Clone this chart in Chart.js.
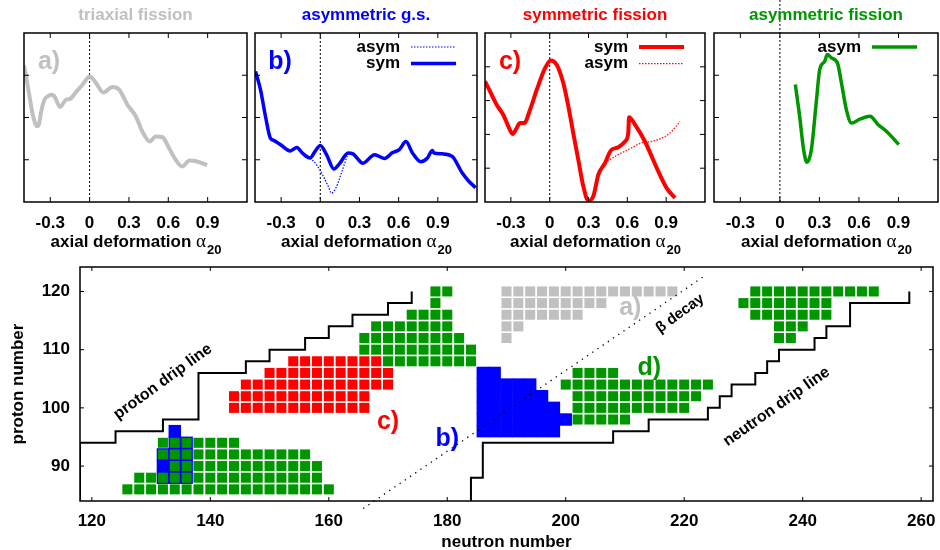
<!DOCTYPE html>
<html>
<head>
<meta charset="utf-8">
<script src="https://cdn.jsdelivr.net/npm/chart.js@4.4.1/dist/chart.umd.min.js"></script>
<style>
  body { margin: 0; background: #fff; }
  #wrap { position: relative; width: 940px; height: 550px; overflow: hidden; }
  canvas { position: absolute; }
</style>
</head>
<body>
<div id="wrap">
  <canvas id="panelA" width="255" height="255" style="left:0px;top:0px"></canvas>
  <canvas id="panelB" width="254" height="255" style="left:231px;top:0px"></canvas>
  <canvas id="panelC" width="252" height="255" style="left:461px;top:0px"></canvas>
  <canvas id="panelD" width="250" height="255" style="left:690px;top:0px"></canvas>
  <canvas id="chartMap" width="940" height="292" style="left:0px;top:258px"></canvas>
</div>
<script>
// ---- deformation curves ----
const alphaTicks = [-0.3, 0, 0.3, 0.6, 0.9];

// a) triaxial fission
const triAlpha = [-0.50, -0.484, -0.458, -0.433, -0.40, -0.387, -0.369, -0.344, -0.319, -0.293, -0.268, -0.225, -0.18, -0.149, -0.099, -0.053, 0, 0.048, 0.104, 0.175, 0.225, 0.289, 0.352, 0.402, 0.459, 0.504, 0.554, 0.605, 0.656, 0.706, 0.762, 0.82, 0.896];
const triE = [3.23, 2.97, 2.50, 2.07, 1.79, 1.83, 2.14, 2.42, 2.50, 2.54, 2.50, 2.25, 2.42, 2.44, 2.62, 2.78, 2.97, 2.82, 2.59, 2.72, 2.66, 2.30, 2.03, 1.67, 1.43, 1.55, 1.54, 1.28, 1.00, 0.84, 0.98, 0.96, 0.87];

// b) asymmetric g.s.
const gsSymAlpha = [-0.496, -0.458, -0.42, -0.382, -0.357, -0.306, -0.23, -0.179, -0.141, -0.078, -0.04, 0, 0.048, 0.104, 0.15, 0.213, 0.25, 0.327, 0.415, 0.491, 0.554, 0.605, 0.656, 0.706, 0.77, 0.82, 0.858, 0.871, 0.934, 1.01, 1.086, 1.137, 1.19];
const gsSymE = [3.09, 2.66, 2.03, 1.51, 1.46, 1.36, 1.21, 1.29, 1.17, 1.04, 1.20, 1.34, 1.12, 0.78, 0.92, 1.16, 1.14, 0.92, 1.12, 1.03, 1.17, 1.24, 1.43, 1.16, 0.95, 1.04, 1.22, 1.16, 1.14, 1.08, 0.69, 0.49, 0.34];
const gsAsymAlpha = [-0.078, -0.028, 0.023, 0.061, 0.086, 0.119, 0.162, 0.213];
const gsAsymE = [1.04, 0.88, 0.61, 0.37, 0.21, 0.33, 0.69, 1.16];

// c) symmetric fission
const symSymAlpha = [-0.5, -0.461, -0.41, -0.359, -0.32, -0.286, -0.255, -0.23, -0.196, -0.152, -0.1, -0.036, 0.008, 0.054, 0.105, 0.144, 0.182, 0.221, 0.26, 0.298, 0.337, 0.376, 0.427, 0.474, 0.53, 0.582, 0.607, 0.613, 0.659, 0.736, 0.827, 0.904, 0.968];
const symSymE = [3.57, 3.27, 2.88, 2.58, 2.24, 2.01, 2.19, 2.34, 2.34, 2.73, 3.32, 3.96, 4.19, 4.06, 3.52, 2.83, 2.04, 1.25, 0.46, 0.04, 0.17, 0.81, 1.15, 1.53, 1.62, 1.79, 2.04, 2.51, 2.29, 1.79, 1.01, 0.41, 0.12];
const symAsymAlpha = [0.427, 0.505, 0.607, 0.711, 0.788, 0.891, 0.943, 1.007];
const symAsymE = [1.15, 1.35, 1.55, 1.75, 1.79, 1.94, 2.09, 2.38];

// d) asymmetric fission
const asymAlpha = [0.117, 0.15, 0.18, 0.205, 0.239, 0.277, 0.302, 0.34, 0.36, 0.391, 0.437, 0.467, 0.505, 0.543, 0.607, 0.683, 0.746, 0.81, 0.903];
const asymE = [2.78, 2.03, 1.24, 0.94, 1.24, 2.39, 3.13, 3.33, 3.49, 3.41, 3.29, 2.82, 2.18, 1.87, 1.96, 2.03, 1.83, 1.67, 1.36];

// ---- nuclear chart: rows of [Z, first N, last N], even-even nuclei ----
const neutronTicks = [120, 140, 160, 180, 200, 220, 240, 260];
const protonTicks = [90, 100, 110, 120];

const triaxialRows = [[120, 190, 218], [118, 190, 206], [116, 190, 202], [114, 190, 192], [112, 190, 190]];
const symmetricRows = [[108, 154, 168], [106, 150, 170], [104, 146, 170], [102, 144, 166], [100, 144, 166]];
const asymGsRows = [[106, 186, 188], [104, 186, 194], [102, 186, 196], [100, 186, 198], [98, 186, 200], [96, 186, 198],
                    [96, 134, 134], [94, 134, 136], [92, 132, 136], [90, 132, 136], [88, 132, 136]];
const asymFissionRows = [[94, 132, 144], [92, 132, 156], [90, 134, 158], [88, 128, 158], [86, 126, 160],
                         [120, 178, 180], [118, 178, 178], [116, 174, 180], [114, 168, 180], [112, 166, 182], [110, 166, 184], [108, 170, 184],
                         [106, 202, 208], [104, 200, 224], [102, 202, 222], [100, 202, 220], [98, 202, 210],
                         [120, 232, 252], [118, 230, 244], [116, 232, 244], [114, 236, 240], [112, 236, 238]];

const protonDripN = [118, 118, 124, 132, 138, 146, 150, 156, 160, 164, 170, 174];
const protonDripZ = [84, 94, 96, 98, 106, 108, 110, 112, 114, 116, 118, 120];
const neutronDripN = [184, 184, 186, 208, 214, 224, 226, 228, 232, 234, 236, 242, 244, 248, 258];
const neutronDripZ = [84, 88, 94, 96, 98, 100, 102, 104, 106, 108, 110, 112, 114, 118, 120];
const betaN = [165.8, 223.2];
const betaZ = [82.7, 122.5];

const GRAY = '#c0c0c0', RED = '#ff0000', BLUE = '#0000ff', GREEN = '#009600';
const FAMILY = '"Liberation Sans", Arial, sans-serif';
Chart.defaults.font.family = FAMILY;
Chart.defaults.color = '#000';

const pts = (xs, ys) => xs.map((v, i) => ({ x: v, y: ys[i] }));
const cells = rows => {
  const out = [];
  rows.forEach(([z, n0, n1]) => { for (let n = n0; n <= n1; n += 2) out.push({ x: n, y: z }); });
  return out;
};

function alphaTitle(ctx, cx, base) {
  const main = 'axial deformation ';
  ctx.textAlign = 'left';
  ctx.textBaseline = 'alphabetic';
  ctx.font = 'bold 17px ' + FAMILY;
  const w1 = ctx.measureText(main).width;
  ctx.font = '19px "Liberation Serif", serif';
  const w2 = ctx.measureText('α').width;
  ctx.font = 'bold 13px ' + FAMILY;
  const w3 = ctx.measureText('20').width;
  let x = cx - (w1 + w2 + w3) / 2;
  ctx.font = 'bold 17px ' + FAMILY;
  ctx.fillText(main, x, base);
  x += w1;
  ctx.font = '19px "Liberation Serif", serif';
  ctx.fillText('α', x, base);
  x += w2 + 1;
  ctx.font = 'bold 13px ' + FAMILY;
  ctx.fillText('20', x, base + 7);
}

// frame, inward ticks, zero line, title, tag and key for the small panels
const panelDeco = {
  id: 'panelDeco',
  beforeDatasetsDraw(chart, args, o) {
    const { ctx, chartArea: a, scales: { x } } = chart;
    const x0 = x.getPixelForValue(0);
    ctx.save();
    ctx.strokeStyle = '#000';
    ctx.lineWidth = 1;
    ctx.setLineDash([2, 2]);
    ctx.beginPath();
    ctx.moveTo(x0, o.zeroTop >= 0 ? o.zeroTop : a.top);
    ctx.lineTo(x0, a.bottom);
    ctx.stroke();
    ctx.restore();
  },
  afterDraw(chart, args, o) {
    const { ctx, chartArea: a, scales: { x, y } } = chart;
    ctx.save();
    ctx.strokeStyle = '#000';
    ctx.lineWidth = 1;
    ctx.beginPath();
    alphaTicks.forEach(v => {
      const px = x.getPixelForValue(v);
      ctx.moveTo(px, a.bottom); ctx.lineTo(px, a.bottom - 5);
      ctx.moveTo(px, a.top); ctx.lineTo(px, a.top + 5);
    });
    o.yTicks.forEach(v => {
      const py = y.getPixelForValue(v);
      ctx.moveTo(a.left, py); ctx.lineTo(a.left + 5, py);
      ctx.moveTo(a.right, py); ctx.lineTo(a.right - 5, py);
    });
    ctx.stroke();
    ctx.lineWidth = 1.5;
    ctx.strokeRect(a.left, a.top, a.right - a.left, a.bottom - a.top);

    ctx.fillStyle = o.color;
    ctx.textAlign = 'center';
    ctx.textBaseline = 'middle';
    ctx.font = 'bold 17px ' + FAMILY;
    ctx.fillText(o.title, (a.left + a.right) / 2, 15);
    if (o.tag) {
      ctx.font = 'bold 25px ' + FAMILY;
      ctx.fillText(o.tag, a.left + 25, a.top + 29);
    }

    ctx.fillStyle = '#000';
    (o.keys || []).forEach((k, i) => {
      const ds = chart.data.datasets[k.ds];
      const ky = a.top + 14 + i * 16.6;
      ctx.font = 'bold 17px ' + FAMILY;
      ctx.textAlign = 'right';
      ctx.fillText(k.text, a.right - 77, ky);
      ctx.strokeStyle = ds.borderColor;
      ctx.lineWidth = ds.borderWidth;
      ctx.setLineDash(ds.borderDash || []);
      ctx.beginPath();
      ctx.moveTo(a.right - 66, ky); ctx.lineTo(a.right - 21, ky);
      ctx.stroke();
      ctx.setLineDash([]);
    });

    ctx.fillStyle = '#000';
    alphaTitle(ctx, (a.left + a.right) / 2, 247);
    ctx.restore();
  }
};

function makePanel(id, datasets, yMax, deco) {
  return new Chart(document.getElementById(id), {
    type: 'line',
    data: { datasets },
    options: {
      responsive: false,
      animation: false,
      events: [],
      layout: { autoPadding: false, padding: { left: 24, right: deco.padRight, top: 33, bottom: 0 } },
      elements: { point: { radius: 0 }, line: { cubicInterpolationMode: 'monotone' } },
      scales: {
        x: {
          type: 'linear', min: -0.5, max: 1.2,
          afterBuildTicks: s => { s.ticks = alphaTicks.map(v => ({ value: v })); },
          afterFit: s => { s.height = 53; s.paddingLeft = 0; s.paddingRight = 0; },
          grid: { display: false, drawTicks: false },
          border: { display: false },
          ticks: {
            font: { size: 17, weight: 'bold' }, color: '#000', padding: 11,
            maxRotation: 0, autoSkip: false,
            callback: v => (v === 0 ? '0' : v.toFixed(1))
          }
        },
        y: { type: 'linear', min: 0, max: yMax, display: false }
      },
      plugins: { legend: { display: false }, tooltip: { enabled: false }, panelDeco: deco }
    },
    plugins: [panelDeco]
  });
}

makePanel('panelA', [
  { data: pts(triAlpha, triE), borderColor: GRAY, borderWidth: 4 }
], 4, { title: 'triaxial fission', color: GRAY, tag: 'a)', yTicks: [1, 2, 3], padRight: 8, zeroTop: -1 });

makePanel('panelB', [
  { data: pts(gsSymAlpha, gsSymE), borderColor: BLUE, borderWidth: 3.5 },
  { data: pts(gsAsymAlpha, gsAsymE), borderColor: BLUE, borderWidth: 1.2, borderDash: [1.5, 1.5] }
], 4, { title: 'asymmetric g.s.', color: BLUE, tag: 'b)', yTicks: [1, 2, 3], padRight: 8, zeroTop: -1,
        keys: [{ text: 'asym', ds: 1 }, { text: 'sym', ds: 0 }] });

makePanel('panelC', [
  { data: pts(symSymAlpha, symSymE), borderColor: RED, borderWidth: 4 },
  { data: pts(symAsymAlpha, symAsymE), borderColor: RED, borderWidth: 1.2, borderDash: [1.5, 1.5] }
], 5, { title: 'symmetric fission', color: RED, tag: 'c)', yTicks: [1, 2, 3, 4], padRight: 8, zeroTop: -1,
        keys: [{ text: 'sym', ds: 0 }, { text: 'asym', ds: 1 }] });

makePanel('panelD', [
  { data: pts(asymAlpha, asymE), borderColor: GREEN, borderWidth: 3.5 }
], 4, { title: 'asymmetric fission', color: GREEN, tag: '', yTicks: [1, 2, 3], padRight: 2, zeroTop: 0,
        keys: [{ text: 'asym', ds: 0 }] });

// ---- nuclear chart ----
const mapDeco = {
  id: 'mapDeco',
  afterDraw(chart, args, o) {
    const { ctx, chartArea: a, scales: { x, y } } = chart;
    ctx.save();
    ctx.strokeStyle = '#000';
    ctx.lineWidth = 1;
    ctx.beginPath();
    neutronTicks.forEach(v => {
      const px = x.getPixelForValue(v);
      ctx.moveTo(px, a.bottom); ctx.lineTo(px, a.bottom - 4);
      ctx.moveTo(px, a.top); ctx.lineTo(px, a.top + 4);
    });
    protonTicks.forEach(v => {
      const py = y.getPixelForValue(v);
      ctx.moveTo(a.left, py); ctx.lineTo(a.left + 4, py);
      ctx.moveTo(a.right, py); ctx.lineTo(a.right - 4, py);
    });
    ctx.stroke();
    ctx.lineWidth = 1.5;
    ctx.strokeRect(a.left, a.top, a.right - a.left, a.bottom - a.top);

    ctx.fillStyle = '#000';
    ctx.textAlign = 'center';
    ctx.textBaseline = 'middle';
    ctx.font = 'bold 17px ' + FAMILY;
    ctx.fillText('neutron number', (a.left + a.right) / 2, 284);
    ctx.save();
    ctx.translate(18, (a.top + a.bottom) / 2);
    ctx.rotate(-Math.PI / 2);
    ctx.fillText('proton number', 0, 0);
    ctx.restore();

    o.notes.forEach(n => {
      ctx.save();
      ctx.translate(x.getPixelForValue(n.n), y.getPixelForValue(n.z));
      ctx.rotate(n.rot * Math.PI / 180);
      ctx.fillStyle = n.color;
      ctx.font = 'bold ' + n.size + 'px ' + FAMILY;
      ctx.fillText(n.text, 0, 0);
      ctx.restore();
    });
    ctx.restore();
  }
};

const squares = (rows, color, order, radius) => ({
  data: cells(rows), pointStyle: 'rect', pointRadius: radius, borderWidth: 0,
  backgroundColor: color, order
});
// drip lines: horizontal run first, then the vertical step
const stepLine = (xs, ys) => ({
  data: pts(xs, ys), showLine: true, stepped: 'before', borderColor: '#000', borderWidth: 2,
  pointRadius: 0, order: 0
});

new Chart(document.getElementById('chartMap'), {
  type: 'scatter',
  data: {
    datasets: [
      stepLine(protonDripN, protonDripZ),
      stepLine(neutronDripN, neutronDripZ),
      { data: pts(betaN, betaZ), showLine: true, borderColor: '#000', borderWidth: 1.3,
        borderDash: [1.3, 5], pointRadius: 0, order: 0, clip: false },
      squares(triaxialRows, GRAY, 1, 7.1),
      squares(symmetricRows, RED, 1, 7.1),
      squares(asymFissionRows, GREEN, 1, 7.1),
      squares(asymGsRows, BLUE, 2, 8.8)
    ]
  },
  options: {
    responsive: false,
    animation: false,
    events: [],
    layout: { autoPadding: false, padding: { left: 0, right: 7, top: 9, bottom: 0 } },
    scales: {
      x: {
        type: 'linear', min: 118, max: 262,
        afterBuildTicks: s => { s.ticks = neutronTicks.map(v => ({ value: v })); },
        afterFit: s => { s.height = 49; s.paddingLeft = 0; s.paddingRight = 0; },
        grid: { display: false, drawTicks: false },
        border: { display: false },
        ticks: { font: { size: 17, weight: 'bold' }, color: '#000', padding: 10, maxRotation: 0, autoSkip: false }
      },
      y: {
        type: 'linear', min: 84, max: 124.2,
        afterBuildTicks: s => { s.ticks = protonTicks.map(v => ({ value: v })); },
        afterFit: s => { s.width = 80; s.paddingTop = 0; s.paddingBottom = 0; },
        grid: { display: false, drawTicks: false },
        border: { display: false },
        ticks: { font: { size: 17, weight: 'bold' }, color: '#000', padding: 10 }
      }
    },
    plugins: {
      legend: { display: false },
      tooltip: { enabled: false },
      mapDeco: {
        notes: [
          { text: 'proton drip line', n: 132, z: 104.5, rot: -36, size: 16, color: '#000' },
          { text: 'neutron drip line', n: 235.6, z: 100.2, rot: -35, size: 16, color: '#000' },
          { text: 'β decay', n: 219.3, z: 116.2, rot: -36, size: 15, color: '#000' },
          { text: 'a)', n: 210.9, z: 117.2, rot: 0, size: 25, color: GRAY },
          { text: 'b)', n: 180.0, z: 94.6, rot: 0, size: 25, color: BLUE },
          { text: 'c)', n: 170.0, z: 97.6, rot: 0, size: 25, color: RED },
          { text: 'd)', n: 214.1, z: 106.8, rot: 0, size: 25, color: GREEN }
        ]
      }
    }
  },
  plugins: [mapDeco]
});
</script>
</body>
</html>
